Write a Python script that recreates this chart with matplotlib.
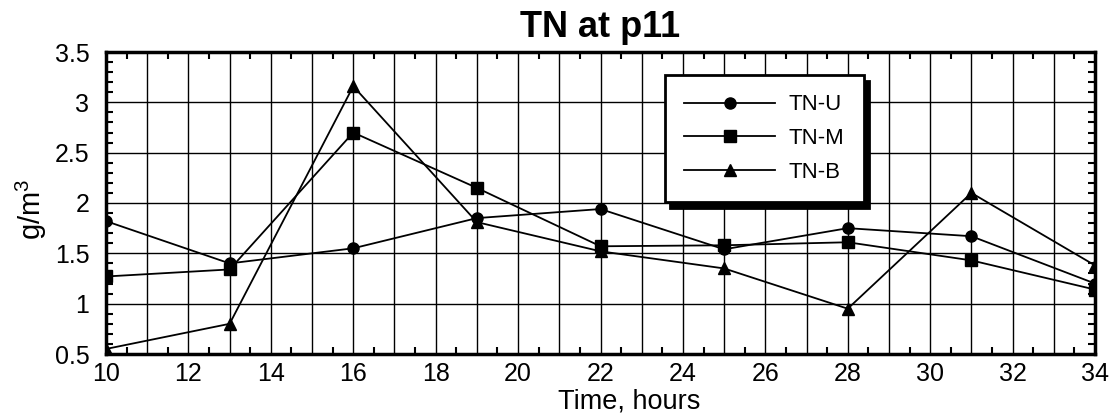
import matplotlib
matplotlib.use("Agg")
import matplotlib.pyplot as plt
from matplotlib.ticker import MultipleLocator, FuncFormatter

plt.rcParams['font.family'] = ['Liberation Sans', 'DejaVu Sans']
plt.rcParams['mathtext.fontset'] = 'custom'
plt.rcParams['mathtext.rm'] = 'Liberation Sans'
plt.rcParams['mathtext.it'] = 'Liberation Sans'

hours = [10, 13, 16, 19, 22, 25, 28, 31, 34]
tn_u = [1.82, 1.40, 1.55, 1.85, 1.94, 1.54, 1.75, 1.67, 1.20]
tn_m = [1.27, 1.34, 2.70, 2.15, 1.57, 1.58, 1.61, 1.43, 1.14]
tn_b = [0.55, 0.80, 3.16, 1.81, 1.52, 1.35, 0.95, 2.10, 1.38]
labels = ['TN-U', 'TN-M', 'TN-B']

fig = plt.figure(figsize=(11.2, 4.19), dpi=100)
ax = fig.add_axes([106/1120, 65/419, 989/1120, 302/419])

ax.plot(hours, tn_u, color='black', lw=1.3, marker='o', ms=8, label=labels[0], zorder=3)
ax.plot(hours, tn_m, color='black', lw=1.3, marker='s', ms=8, label=labels[1], zorder=3)
ax.plot(hours, tn_b, color='black', lw=1.3, marker='^', ms=8, label=labels[2], zorder=3)

ax.set_xlim(10, 34)
ax.set_ylim(0.5, 3.5)
ax.xaxis.set_major_locator(MultipleLocator(1))
ax.xaxis.set_minor_locator(MultipleLocator(0.5))
ax.xaxis.set_major_formatter(FuncFormatter(lambda v, p: f"{int(round(v))}" if int(round(v)) % 2 == 0 else ""))
ax.yaxis.set_major_locator(MultipleLocator(0.5))
ax.yaxis.set_minor_locator(MultipleLocator(0.1))
ax.yaxis.set_major_formatter(FuncFormatter(lambda v, p: f"{v:g}"))

ax.grid(True, which='major', color='black', lw=1.0)
ax.tick_params(which='both', direction='in', top=True, right=True, labelsize=18, colors='black')
ax.tick_params(which='major', length=0)
ax.tick_params(axis='x', which='major', pad=6)
ax.tick_params(axis='y', which='major', pad=12)
ax.tick_params(which='minor', length=5, width=1.5)
for s in ax.spines.values():
    s.set_linewidth(2.5)

ax.set_title('TN at p11', fontsize=26, fontweight='bold', pad=11)
ax.set_xlabel('Time, hours', fontsize=19.5, labelpad=0)
ax.xaxis.set_label_coords(0.529, -0.115)
ax.set_ylabel('g/m$^3$', fontsize=21)
ax.yaxis.set_label_coords(-0.058, 0.48)

leg = ax.legend(loc='upper left', bbox_to_anchor=(0.565, 0.924), borderaxespad=0,
                fontsize=16, handlelength=4.1, handletextpad=0.6, labelspacing=0.57,
                borderpad=0.87, fancybox=False, frameon=True,
                shadow={'ox': 4, 'oy': -4, 'color': 'black', 'alpha': 1})
leg.get_frame().set_edgecolor('black')
leg.get_frame().set_linewidth(2.0)
leg.get_frame().set_facecolor('white')
leg.get_frame().set_alpha(1)

fig.savefig('out.png', dpi=100)
